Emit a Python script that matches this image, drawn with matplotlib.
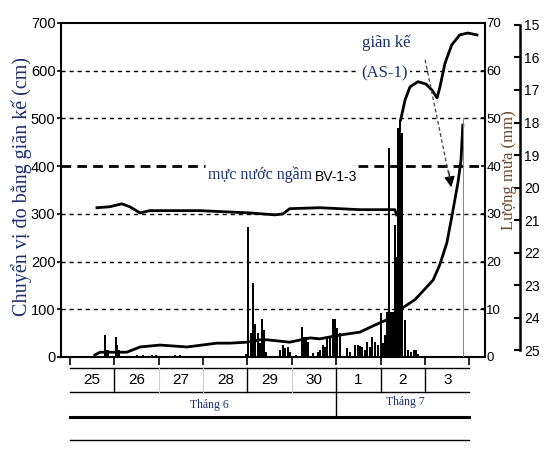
import matplotlib
matplotlib.use('Agg')
import matplotlib.pyplot as plt

NARROW = ['Liberation Sans', 'DejaVu Sans']
SERIF = ['Liberation Serif', 'DejaVu Serif']
NAVY = '#1c2f6e'

# time axis: days counted from 0h on 25 June
day_labels = ['25', '26', '27', '28', '29', '30', '1', '2', '3']
month_labels = ['Tháng 6', 'Tháng 7']

# extensometer AS-1 (cm)
as1_t = [0.56, 0.68, 1.28, 1.42, 1.58, 2.03, 2.64, 3.31, 3.60, 3.99, 4.28, 4.44,
         4.95, 5.41, 5.63, 6.08, 6.53, 6.87, 7.14, 7.43, 7.77, 8.18, 8.33, 8.49,
         8.60, 8.67, 8.74, 8.81, 8.85]
as1_cm = [4, 10, 10, 15, 21, 25, 21, 29, 29, 31, 36, 36,
          31, 40, 38, 46, 52, 67, 78, 99, 120, 161, 193, 239,
          293, 329, 365, 413, 486]

# extensometer, upper branch after the jump on 2 July (cm)
as1b_t = [7.45, 7.55, 7.66, 7.84, 8.02, 8.15, 8.27, 8.33, 8.45, 8.60, 8.78, 8.96, 9.17]
as1b_cm = [497, 539, 566, 577, 572, 560, 543, 564, 616, 654, 675, 679, 675]

# groundwater level BV-1-3 (m)
gw_t = [0.61, 0.90, 1.17, 1.35, 1.58, 1.80, 2.93, 4.05, 4.62, 4.80, 4.95, 5.63,
        6.53, 7.32, 7.36]
gw_m = [20.62, 20.59, 20.50, 20.59, 20.78, 20.71, 20.71, 20.78, 20.84, 20.81,
        20.65, 20.62, 20.68, 20.68, 20.84]

# hourly rainfall (mm)
rain_t = [0.79, 0.81, 0.86, 1.04, 1.06, 1.10, 1.51, 1.64, 1.85, 1.94, 2.36, 2.48,
          3.96, 4.01, 4.08, 4.12, 4.17, 4.23, 4.28, 4.32, 4.37, 4.41,
          4.73, 4.80, 4.84, 4.91, 4.95, 5.09, 5.23, 5.27, 5.32, 5.36, 5.47,
          5.59, 5.63, 5.70, 5.74, 5.79, 5.86, 5.92, 5.97, 6.01, 6.08,
          6.24, 6.31, 6.42, 6.49, 6.53, 6.58, 6.64, 6.69, 6.76, 6.80, 6.87, 6.94,
          7.00, 7.05, 7.09, 7.14, 7.18, 7.23, 7.27, 7.32, 7.36, 7.39, 7.43, 7.48,
          7.55, 7.61, 7.68, 7.75, 7.79, 7.84]
rain_mm = [4.6, 1.5, 1.5, 4.2, 2.5, 1.5, 0.5, 0.5, 0.5, 0.5, 0.5, 0.5,
           0.6, 27.2, 5.0, 15.5, 7.0, 5.0, 3.0, 8.0, 5.7, 1.0,
           1.5, 2.5, 1.9, 2.1, 1.0, 0.5, 6.3, 4.2, 4.2, 3.1, 0.8,
           1.0, 1.5, 2.5, 2.1, 4.2, 4.2, 8.0, 8.0, 6.0, 5.0,
           1.9, 1.0, 2.5, 2.5, 2.3, 2.1, 1.5, 3.1, 2.1, 4.2, 3.1, 2.5,
           9.2, 3.0, 4.6, 9.4, 43.8, 9.4, 9.4, 27.7, 21.0, 48.0, 49.7, 47.0,
           7.8, 1.5, 1.0, 1.5, 1.5, 0.7]
rain_gray_t = [8.87]
rain_gray_mm = [50]

fig = plt.figure(figsize=(5.58, 4.5), dpi=100)
ax = fig.add_axes([0.1093, 0.2067, 0.7599, 0.7422])
ax.set_xlim(-0.2, 9.35)
ax.set_ylim(0, 700)

for v in [100, 200, 300, 500, 600]:
    ax.axhline(v, color='black', lw=1, dashes=(3, 2.8), zorder=1)
# the 400 line is bolder and broken where the groundwater label sits
ax.axhline(400, xmax=0.34, color='black', lw=2, dashes=(3.5, 2.2), zorder=1)
ax.axhline(400, xmin=0.70, color='black', lw=2, dashes=(3.5, 2.2), zorder=1)

ax.plot(as1_t, as1_cm, color='black', lw=2, zorder=3)
ax.plot(as1b_t, as1b_cm, color='black', lw=2, zorder=3)

ax.set_yticks(range(0, 701, 100))
ax.set_xticks(range(10))
ax.tick_params(axis='x', direction='out', length=6, width=1.2, labelbottom=False)
ax.tick_params(axis='y', direction='out', length=3, width=1.2, pad=1, labelsize=10.5)
for lab in ax.get_yticklabels():
    lab.set_family(NARROW)
for s in ax.spines.values():
    s.set_linewidth(1.5)

# annotations
ax.text(7.12, 658, 'giãn kế', family=SERIF, fontsize=12, color=NAVY,
        ha='center', va='center', zorder=4)
ax.text(7.09, 595, '(AS-1)', family=SERIF, fontsize=12, color=NAVY,
        ha='center', va='center', zorder=4,
        bbox=dict(facecolor='white', edgecolor='none', pad=1.5))
ax.text(4.28, 381, 'mực nước ngầm', family=SERIF, fontsize=11.5, color=NAVY,
        ha='center', va='center', zorder=4)
ax.text(5.99, 377, 'BV-1-3', family=NARROW, fontsize=10, color='black',
        ha='center', va='center', zorder=4)
ax.plot([8.0, 8.55], [623, 375], color='#444444', lw=0.9, dashes=(3, 2), zorder=5)
ax.annotate('', xy=(8.6, 350), xytext=(8.52, 395),
            arrowprops=dict(arrowstyle='-|>', color='black', lw=0.9,
                            mutation_scale=16))

# rainfall axis
ax2 = ax.twinx()
ax2.set_ylim(0, 70)
ax2.bar(rain_t, rain_mm, width=0.04, color='black', align='center')
ax2.bar(rain_gray_t, rain_gray_mm, width=0.03, color='#888888', align='center')
ax2.set_yticks(range(0, 71, 10))
ax2.tick_params(axis='y', direction='in', length=3, width=1.2, pad=1, labelsize=9.5)
for lab in ax2.get_yticklabels():
    lab.set_family(NARROW)
for s in ax2.spines.values():
    s.set_visible(False)

# groundwater depth axis
ax3 = ax.twinx()
ax3.set_ylim(25.21, 14.94)
ax3.plot(gw_t, gw_m, color='black', lw=2)
ax3.spines['right'].set_position(('outward', 25))
ax3.spines['right'].set_bounds(15, 25)
ax3.spines['right'].set_linewidth(1.8)
for k in ['left', 'top', 'bottom']:
    ax3.spines[k].set_visible(False)
ax3.set_yticks(range(15, 26))
ax3.tick_params(axis='y', direction='in', length=4, width=1.5, pad=3, labelsize=10)
for lab in ax3.get_yticklabels():
    lab.set_family(NARROW)

# axis titles
fig.text(22 / 558, 1 - 186 / 450, 'Chuyển vị đo bằng giãn kế (cm)', rotation=90,
         family=SERIF, fontsize=14.5, color=NAVY, ha='center', va='center')
fig.text(509 / 558, 1 - 170 / 450, 'Lượng mưa (mm)', rotation=90,
         family=SERIF, fontsize=12, color='#6b4a2a', ha='center', va='center')

# date table below the axis
tr = ax.get_xaxis_transform()
y_top, y_mid, y_month, y_bot = -0.033, -0.105, -0.180, -0.249
ax.plot([0, 9], [y_top, y_top], color='black', lw=1, transform=tr, clip_on=False)
ax.plot([0, 9], [y_mid, y_mid], color='black', lw=1, transform=tr, clip_on=False)
ax.plot([0, 9], [y_month, y_month], color='black', lw=2.2, transform=tr, clip_on=False)
ax.plot([0, 9], [y_bot, y_bot], color='black', lw=1, transform=tr, clip_on=False)
for d in [1, 4, 6, 7, 8]:
    ax.plot([d, d], [y_top, y_mid], color='black', lw=1, transform=tr, clip_on=False)
for d in [2, 3, 5]:
    ax.plot([d, d], [y_top, y_mid], color='#cccccc', lw=0.8, transform=tr, clip_on=False)
ax.plot([6, 6], [y_mid, y_month], color='black', lw=1, transform=tr, clip_on=False)
for i, lab in enumerate(day_labels):
    ax.text(i + 0.5, (y_top + y_mid) / 2, lab, transform=tr, family=NARROW,
            fontsize=11, ha='center', va='center')
ax.text(3.15, -0.143, month_labels[0], transform=tr, family=SERIF, fontsize=8.5,
        color=NAVY, ha='center', va='center')
ax.text(7.55, -0.135, month_labels[1], transform=tr, family=SERIF, fontsize=8.5,
        color=NAVY, ha='center', va='center')

fig.savefig('out.png', dpi=100)
